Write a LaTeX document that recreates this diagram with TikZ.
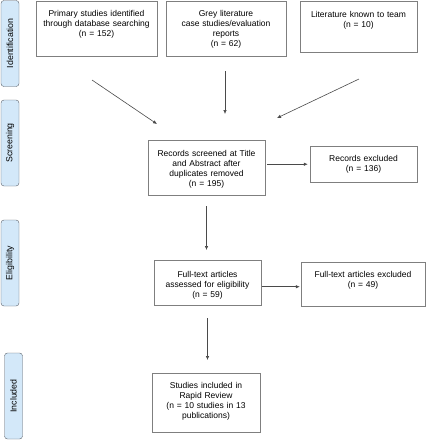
\documentclass[tikz,border=0pt]{standalone}
\usepackage{fontspec}
\setmainfont{Liberation Sans}
\usetikzlibrary{arrows.meta}
\definecolor{boxline}{HTML}{7F7F7F}
\definecolor{stagefill}{HTML}{D3E8F9}
\definecolor{stageline}{HTML}{5A6068}
\definecolor{arrowline}{HTML}{4A4A4A}

\begin{document}
\begin{tikzpicture}[x=1pt,y=-1pt]
\tikzstyle{box} = [
 draw=boxline,
 align=center,
 inner sep=0pt,
 anchor=north,
 font=\fontsize{8.5}{10}\selectfont
]
\tikzstyle{stage} = [
 draw=stageline,
 fill=stagefill,
 rounded corners=3pt,
 rotate=90,
 minimum width=86pt,
 minimum height=18pt,
 inner sep=0pt,
 font=\fontsize{8.8}{10}\selectfont
]
\tikzstyle{flow} = [
 draw=arrowline,
 line width=0.6pt,
 -{Latex[length=4pt,width=3.5pt]}
]
\useasboundingbox (0,0) rectangle (426,440);

\node[stage] at (10,43.5)  (ident) {Identification};
\node[stage] at (10,143)   (scr)   {Screening};
\node[stage] at (10,263)   (elig)  {Eligibility};
\node[stage] at (13.5,396) (inc)   {Included};

\node[box, text width=121pt, text height=15pt, text depth=40pt] at (96.5,1) (prim)
  {Primary studies identified\\through database searching\\(n = 152)};
\node[box, text width=120pt, text height=15pt, text depth=40pt] at (226,1) (grey)
  {Grey literature\\case studies/evaluation\\reports\\(n = 62)};
\node[box, text width=117pt, text height=16pt, text depth=35pt] at (358.5,1) (lit)
  {Literature known to team\\(n = 10)};
\node[box, text width=117pt, text height=16pt, text depth=39pt] at (206.5,140) (screen)
  {Records screened at Title\\and Abstract after\\duplicates removed\\(n = 195)};
\node[box, text width=107pt, text height=15pt, text depth=21pt] at (363.5,146) (recex)
  {Records excluded\\(n = 136)};
\node[box, text width=107pt, text height=17pt, text depth=28pt] at (207.5,260) (full)
  {Full-text articles\\assessed for eligibility\\(n = 59)};
\node[box, text width=124pt, text height=15pt, text depth=29pt] at (363,262) (fullex)
  {Full-text articles excluded\\(n = 49)};
\node[box, text width=108pt, text height=15pt, text depth=44pt] at (206,373) (incl)
  {Studies included in\\Rapid Review\\(n = 10 studies in 13\\publications)};

\coordinate (prim-out) at (92,80);
\coordinate (grey-out) at (225,71);
\coordinate (lit-out) at (359,79);
\coordinate (screen-inl) at (157,124);
\coordinate (screen-inc) at (225,114);
\coordinate (screen-inr) at (277,118);

\path[flow] (prim-out) -- (screen-inl);
\path[flow] (grey-out) -- (screen-inc);
\path[flow] (lit-out) -- (screen-inr);
\path[flow, shorten <=2pt, shorten >=2pt] (screen.east |- recex.west) -- (recex.west);
\path[flow, shorten <=11pt, shorten >=10pt] (screen.south) -- (screen.south |- full.north);
\path[flow, shorten <=1pt, shorten >=1pt] ([yshift=-4pt]full.east) -- ([yshift=-4pt]full.east -| fullex.west);
\path[flow, shorten <=13pt, shorten >=13pt] (full.south) -- (full.south |- incl.north);
\end{tikzpicture}
\end{document}
